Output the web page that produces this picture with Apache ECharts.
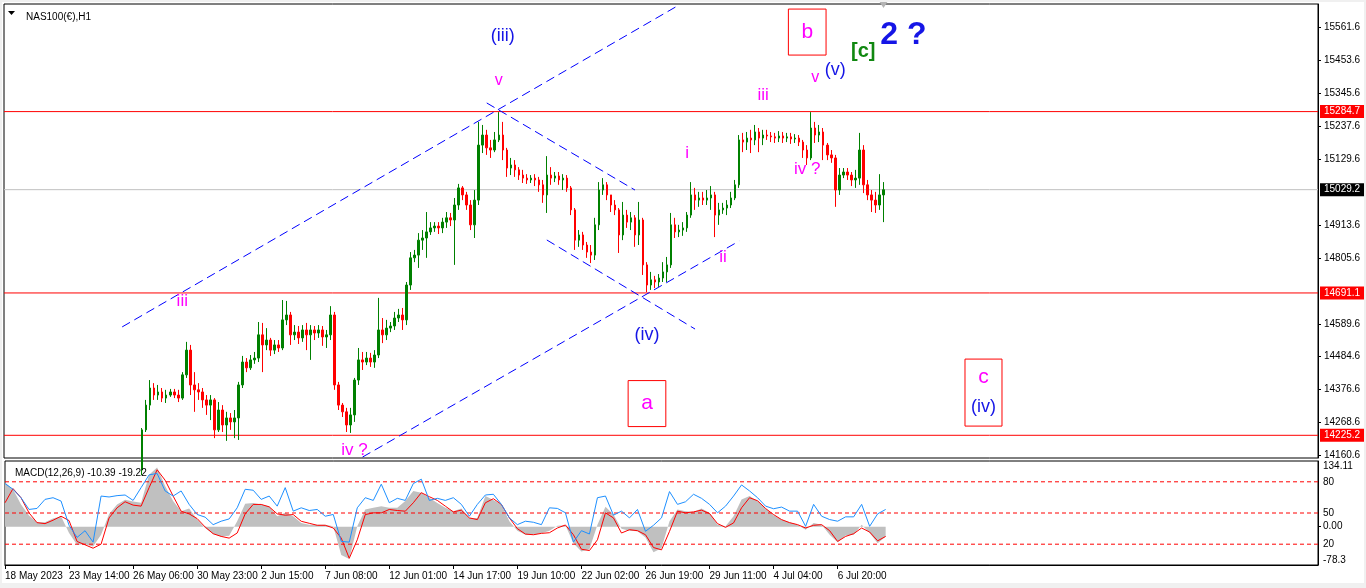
<!DOCTYPE html>
<html><head><meta charset="utf-8">
<script src="https://cdn.jsdelivr.net/npm/echarts@6/dist/echarts.min.js"></script>
<style>
html,body{margin:0;padding:0;background:#f0f0f0;width:1366px;height:588px;overflow:hidden}
#c{position:absolute;left:2px;top:2px;width:1362px;height:581px;background:#fff}
</style></head><body><div id="c"></div>
<script>
// ---------- DATA ----------
const FIRST_SLOT = 34;       // first slot that is visible in the price window
const SLOT_COUNT = 328;      // slots across the price window (4 H1 bars per slot)
// candles: [open, close, low, high]
const candles = [
[14112,14243,14095,14249],[14243,14324,14236,14341],[14324,14380,14308,14406],[14380,14357,14341,14396],
[14357,14367,14341,14390],[14367,14347,14334,14380],[14347,14357,14331,14374],[14357,14367,14351,14377],
[14367,14357,14347,14377],[14357,14347,14334,14374],[14347,14423,14341,14432],[14423,14504,14413,14531],
[14504,14390,14357,14521],[14390,14374,14302,14432],[14374,14367,14341,14396],[14367,14341,14315,14380],
[14341,14324,14292,14357],[14324,14341,14275,14357],[14341,14243,14216,14347],[14243,14308,14236,14334],
[14308,14259,14236,14324],[14259,14282,14207,14302],[14282,14269,14243,14298],[14269,14282,14216,14308],
[14282,14390,14210,14400],[14390,14465,14380,14485],[14465,14446,14432,14478],[14446,14472,14439,14488],
[14472,14478,14459,14498],[14478,14554,14465,14596],[14554,14521,14432,14593],[14521,14537,14504,14576],
[14537,14504,14485,14544],[14504,14521,14491,14537],[14521,14511,14498,14537],[14511,14603,14504,14668],
[14603,14619,14586,14665],[14619,14554,14521,14629],[14554,14563,14537,14586],[14563,14544,14524,14583],
[14544,14570,14531,14586],[14570,14554,14504,14593],[14554,14570,14472,14586],[14570,14560,14537,14583],
[14560,14570,14544,14586],[14570,14547,14518,14583],[14547,14554,14511,14570],[14554,14619,14537,14648],
[14619,14390,14374,14629],[14390,14324,14308,14400],[14324,14302,14285,14331],[14302,14259,14236,14315],
[14259,14292,14233,14315],[14292,14406,14269,14413],[14406,14472,14390,14511],[14472,14465,14439,14498],
[14465,14478,14455,14498],[14478,14465,14449,14495],[14465,14488,14446,14504],[14488,14570,14478,14675],
[14570,14554,14527,14609],[14554,14576,14537,14603],[14576,14583,14563,14596],[14583,14609,14570,14629],
[14609,14619,14596,14639],[14619,14603,14570,14642],[14603,14717,14586,14727],[14717,14806,14701,14825],
[14806,14815,14792,14832],[14815,14864,14773,14887],[14864,14871,14832,14897],[14871,14891,14806,14956],
[14891,14904,14881,14923],[14904,14910,14891,14923],[14910,14904,14884,14923],[14904,14923,14887,14937],
[14923,14937,14904,14956],[14937,14930,14910,14953],[14930,14979,14783,15002],[14979,15035,14963,15048],
[15035,15012,14995,15041],[15012,14979,14963,15022],[14979,14914,14897,14995],[14914,14995,14871,15028],
[14995,15175,14979,15251],[15175,15208,15149,15241],[15208,15166,15143,15225],[15166,15159,15133,15192],
[15159,15192,15152,15218],[15192,15208,15185,15283],[15208,15159,15126,15251],[15159,15100,15071,15166],
[15100,15110,15077,15133],[15110,15094,15071,15126],[15094,15077,15061,15103],[15077,15067,15051,15094],
[15067,15061,15048,15080],[15061,15067,15051,15077],[15067,15061,15041,15080],[15061,15045,15022,15071],
[15045,15012,14986,15061],[15012,15077,14953,15139],[15077,15067,15045,15103],[15067,15074,15054,15087],
[15074,15061,15045,15087],[15061,15067,15028,15080],[15067,15035,15022,15077],[15035,14963,14946,15041],
[14963,14864,14832,14969],[14864,14881,14842,14897],[14881,14848,14832,14891],[14848,14825,14806,14858],
[14825,14815,14789,14848],[14815,14914,14799,14937],[14914,15028,14897,15054],[15028,15045,15012,15067],
[15045,15012,14995,15054],[15012,14979,14956,15012],[14979,14963,14946,14995],[14963,14881,14822,14969],
[14881,14946,14864,14989],[14946,14923,14904,14963],[14923,14937,14897,14956],[14937,14881,14842,14946],
[14881,14930,14848,14989],[14930,14783,14750,14937],[14783,14717,14694,14792],[14717,14734,14701,14760],
[14734,14727,14707,14747],[14727,14740,14711,14753],[14740,14760,14727,14792],[14760,14783,14727,14809],
[14783,14914,14773,14953],[14914,14891,14871,14937],[14891,14897,14874,14914],[14897,14904,14878,14923],
[14904,14946,14891,14956],[14946,15012,14937,15054],[15012,14995,14963,15035],[14995,15002,14973,15022],
[15002,14995,14979,15022],[14995,15002,14979,15028],[15002,15012,14963,15041],[15012,14946,14874,15022],
[14946,14963,14914,14986],[14963,14969,14950,14986],[14969,14979,14946,14995],[14979,15002,14969,15022],
[15002,15045,14995,15061],[15045,15192,15035,15208],[15192,15185,15152,15215],[15185,15198,15159,15218],
[15198,15192,15149,15225],[15192,15218,15175,15241],[15218,15198,15152,15231],[15198,15208,15175,15225],
[15208,15205,15192,15225],[15205,15202,15185,15218],[15202,15198,15182,15215],[15198,15205,15185,15221],
[15205,15198,15182,15218],[15198,15202,15185,15215],[15202,15195,15179,15215],[15195,15198,15182,15211],
[15198,15185,15172,15208],[15185,15159,15133,15192],[15159,15133,15110,15175],[15133,15231,15126,15283],
[15231,15208,15182,15251],[15208,15218,15185,15241],[15218,15175,15126,15231],[15175,15143,15126,15182],
[15143,15133,15117,15159],[15133,15028,14973,15143],[15028,15077,15012,15100],[15077,15087,15067,15100],
[15087,15077,15061,15100],[15077,15061,15041,15087],[15061,15067,15035,15094],[15067,15159,15045,15215],
[15159,15045,15018,15175],[15045,15012,14995,15061],[15012,14995,14956,15028],[14995,14979,14953,15022],
[14979,15012,14963,15080],[15012,15029,14923,15054]
];
// MACD window, one value per 8 H1 bars
const macdMain = [
90.0,76.3,45.4,22.7,8.9,8.9,16.5,21.3,-13.0,-37.1,-35.7,-40.6,-16.5,26.1,45.4,55.0,51.6,48.8,105.9,121.0,
83.2,52.2,31.6,37.1,14.4,-2.7,-15.1,-19.9,-18.6,11.0,46.7,48.1,45.4,41.9,21.3,28.2,21.3,7.6,4.1,4.1,
4.1,0.7,-57.7,-66.0,0.7,35.1,38.5,41.9,38.5,38.5,52.2,72.9,69.4,59.1,48.1,38.5,31.6,37.1,17.9,17.9,
62.5,54.3,45.4,11.0,-8.2,-16.5,-16.5,-13.7,-8.2,2.1,2.8,-33.7,-50.9,-46.1,4.1,40.5,24.7,-4.1,-8.2,-9.6,
-22.0,-52.2,-44.0,11.0,35.1,31.6,30.2,37.1,28.2,4.1,0.7,21.3,55.7,62.5,52.2,37.1,23.4,14.4,8.9,4.1,
-6.2,7.6,4.1,-16.5,-31.6,-17.9,-16.5,4.1,-13.0,-33.7,-19.9
];
const macdSignal = [
48.8,77.7,59.1,28.2,8.2,6.2,13.1,21.3,12.4,-30.2,-37.1,-44.0,-35.7,17.9,38.5,50.9,44.0,41.9,79.7,116.2,
94.9,62.5,31.6,26.1,16.5,-0.7,-14.4,-19.9,-23.4,-13.0,26.1,45.4,45.4,40.5,26.1,23.4,24.7,11.0,6.9,2.8,
2.8,-2.7,-23.4,-64.6,-26.8,24.7,28.2,28.2,35.1,33.0,31.6,48.8,69.4,61.2,53.6,41.9,30.2,33.7,17.9,14.4,
48.8,57.1,45.4,17.9,-4.1,-15.1,-16.5,-13.7,-12.4,-2.7,3.4,-16.5,-46.1,-48.8,-26.8,28.2,17.9,-13.0,-6.2,-8.2,
-16.5,-42.6,-47.4,-9.6,31.6,28.2,30.2,33.7,26.8,6.2,-1.4,7.6,38.5,59.1,52.9,37.1,24.7,14.4,8.2,4.1,
-2.7,2.8,4.1,-8.2,-30.2,-19.9,-14.4,-2.7,-11.0,-28.9,-19.9
];
const oscillator = [
78.3,72.8,64.7,53.4,54.4,63.1,64.7,61.5,38.2,26.5,33.0,22.0,66.3,65.4,66.7,67.3,62.1,74.4,86.7,88.0,
71.2,66.3,71.2,58.3,48.6,46.0,38.8,42.1,44.3,55.0,72.8,71.9,63.1,66.3,56.6,74.4,51.8,55.0,52.4,53.4,
46.9,48.6,22.7,22.0,55.0,64.7,62.1,77.7,59.9,64.1,62.1,78.3,82.5,62.1,64.1,62.1,64.7,58.3,46.9,58.3,
67.3,68.0,58.3,45.3,38.8,42.1,41.1,38.8,55.0,54.4,50.2,22.0,33.0,29.8,64.7,66.3,47.9,51.8,45.3,53.4,
32.4,38.2,45.3,70.6,58.3,60.8,68.0,64.1,58.3,50.2,56.6,66.3,77.0,71.2,64.7,56.6,54.1,55.7,51.8,51.8,
37.2,58.3,46.9,43.7,42.1,46.3,46.3,58.3,37.2,49.2,53.4
];
const dateLabels = ['18 May 2023','23 May 14:00','26 May 06:00','30 May 23:00','2 Jun 15:00','7 Jun 08:00',
  '12 Jun 01:00','14 Jun 17:00','19 Jun 10:00','22 Jun 02:00','26 Jun 19:00','29 Jun 11:00','4 Jul 04:00','6 Jul 20:00'];
const priceTicks = [14160.6,14268.6,14376.6,14484.6,14589.6,14805.6,14913.6,15129.6,15237.6,15345.6,15453.6,15561.6];
const macdTicks = [-78.3, 0, 134.11];
const oscLevels = [20, 50, 80];
const redLevels = [15284.7, 14691.1, 14225.2];
const bidLevel = 15029.2;
// trend lines: [slotA, priceA, slotB, priceB]
const trendLines = [
  [29, 14580, 167.75, 15633.6],
  [89.25, 14154, 182.75, 14861],
  [120.25, 15313, 157.25, 15028],
  [134.75, 14864.5, 171.75, 14573]
];
// wave labels: [text, slot, price, color, size, bold, boxed]
const annotations = [
  ['(iii)', 123.5, 15532, '#1515e6', 18, false, false],
  ['v', 123, 15385, '#ff00ff', 16, false, false],
  ['iii', 43.75, 14665, '#ff00ff', 17, false, false],
  ['iv ?', 86.75, 14176, '#ff00ff', 17, false, false],
  ['(iv)', 160, 14554, '#1515e6', 18, false, false],
  ['a', 159.6, 14329, '#ff00ff', 21, false, true],
  ['i', 170.25, 15149, '#ff00ff', 17, false, false],
  ['ii', 178.5, 14809, '#ff00ff', 17, false, false],
  ['iii', 188.5, 15339, '#ff00ff', 17, false, false],
  ['iv ?', 199.5, 15097, '#ff00ff', 17, false, false],
  ['v', 202, 15395, '#ff00ff', 16, false, false],
  ['(v)', 207, 15421, '#1515e6', 18, false, false],
  ['b', 199.75, 15545, '#ff00ff', 21, false, true],
  ['[c]', 214, 15480, '#118811', 20, true, false],
  ['2 ?', 224.25, 15535, '#1515e6', 32, true, false]
];
const boxedPair = {top:'c', bottom:'(iv)', slot:243.6, price:14365};

// ---------- BUILD ----------
const FONT = 'Liberation Sans';
const mainCats = Array.from({length:SLOT_COUNT}, (_, i) => String(i));
const candleData = [];
for (let i = 0; i < FIRST_SLOT; i++) candleData.push(['-','-','-','-']);
candles.forEach(c => candleData.push(c));
const macdCats = Array.from({length:165}, (_, i) => (i % 8 === 0 && dateLabels[i/8]) ? dateLabels[i/8] : '');
const labelIdx = (i) => i % 8 === 0 && i/8 < dateLabels.length;

const trendMarks = trendLines.map(t => [{coord: [t[0], t[1]]}, {coord: [t[2], t[3]]}]);
const annoPoints = annotations.map(a => ({
  coord: [a[1], a[2]], symbol: 'rect', symbolSize: 1, itemStyle: {color: 'rgba(0,0,0,0)'},
  label: {show: true, position: 'inside', formatter: a[0], color: a[3], fontSize: a[4],
          fontWeight: a[5] ? 'bold' : 'normal', fontFamily: FONT,
          borderColor: a[6] ? '#ff0000' : 'transparent', borderWidth: a[6] ? 1 : 0,
          padding: a[6] ? [11, 13, 10, 13] : 0, lineHeight: a[4] + 4}
}));
annoPoints.push({
  coord: [boxedPair.slot, boxedPair.price], symbol: 'rect', symbolSize: 1, itemStyle: {color: 'rgba(0,0,0,0)'},
  label: {show: true, position: 'inside', formatter: '{m|' + boxedPair.top + '}\n{b|' + boxedPair.bottom + '}',
          borderColor: '#ff0000', borderWidth: 1, padding: [3, 6, 4, 6],
          rich: {m: {color: '#ff00ff', fontSize: 21, fontFamily: FONT, lineHeight: 30, align: 'center'},
                 b: {color: '#1515e6', fontSize: 18, fontFamily: FONT, lineHeight: 30, align: 'center'}}}
});

// horizontal level lines drawn as 2-point lines across a hidden 0..1 x axis
const hLine = (value, color, xIdx, yIdx, labelBg, dashed) => ({
  type: 'line', xAxisIndex: xIdx, yAxisIndex: yIdx, data: [[0, value], [1, value]],
  symbol: 'none', silent: true, z: 3, clip: false,
  lineStyle: {color: color, width: 1, type: dashed ? [4, 3] : 'solid'},
  itemStyle: {color: color},
  emphasis: {disabled: true},
  endLabel: labelBg ? {show: true, distance: 2, formatter: value.toFixed(1), color: '#fff',
            backgroundColor: labelBg, padding: [2, 4, 1, 4], fontFamily: FONT, fontSize: 10} : {show: false}
});

const series = [];
series.push(hLine(bidLevel, '#c0c0c0', 2, 0, '#000000', false));
redLevels.forEach(v => series.push(hLine(v, '#ff0000', 2, 0, '#ff0000', false)));
series.push({type: 'line', xAxisIndex: 0, yAxisIndex: 0, data: [], silent: true,
  markLine: {symbol: ['none', 'none'], silent: true, animation: false,
             lineStyle: {color: '#0000ff', width: 1, type: [9, 5]}, label: {show: false}, data: trendMarks}});
series.push({type: 'candlestick', xAxisIndex: 0, yAxisIndex: 0, data: candleData, barWidth: 2, clip: true, z: 4,
  itemStyle: {color: '#008000', color0: '#ff0000', borderColor: '#008000', borderColor0: '#ff0000', borderWidth: 1},
  markPoint: {silent: true, animation: false, data: annoPoints}});
series.push({type: 'line', xAxisIndex: 1, yAxisIndex: 1, data: macdMain, symbol: 'none',
  lineStyle: {width: 0, color: '#c0c0c0'}, itemStyle: {color: '#c0c0c0'}, areaStyle: {color: '#c0c0c0', opacity: 1}});
oscLevels.forEach(v => series.push(hLine(v, '#ff0000', 3, 2, null, true)));
series.push({type: 'line', xAxisIndex: 1, yAxisIndex: 1, data: macdSignal, symbol: 'none',
  lineStyle: {width: 1, color: '#ff0000'}, itemStyle: {color: '#ff0000'}});
series.push({type: 'line', xAxisIndex: 1, yAxisIndex: 2, data: oscillator, symbol: 'none',
  lineStyle: {width: 1, color: '#1e90ff'}, itemStyle: {color: '#1e90ff'}});

const chart = echarts.init(document.getElementById('c'));
chart.setOption({
  animation: false,
  backgroundColor: '#ffffff',
  textStyle: {fontFamily: FONT},
  title: [
    {text: 'NAS100(€),H1', left: 19, top: 5, textStyle: {fontSize: 10, fontWeight: 'normal', color: '#000', fontFamily: FONT}},
    {text: 'MACD(12,26,9) -10.39 -19.22', left: 8, top: 461, textStyle: {fontSize: 10, fontWeight: 'normal', color: '#000', fontFamily: FONT}}
  ],
  graphic: [
    {type: 'polygon', shape: {points: [[6, 9], [13, 9], [9.5, 13]]}, style: {fill: '#000'}},
    {type: 'polygon', shape: {points: [[877, -1], [886, -1], [881.5, 6]]}, style: {fill: '#b4b4b4'}}
  ],
  grid: [
    {left: 2, right: 46, top: 2, bottom: 125, show: true, borderColor: '#000', borderWidth: 1, backgroundColor: '#fff'},
    {left: 2, right: 46, top: 459, bottom: 18, show: true, borderColor: '#000', borderWidth: 1, backgroundColor: '#fff'}
  ],
  xAxis: [
    {type: 'category', gridIndex: 0, data: mainCats, boundaryGap: true,
     axisLine: {show: false, onZero: false}, axisTick: {show: false}, axisLabel: {show: false}, splitLine: {show: false}},
    {type: 'category', gridIndex: 1, data: macdCats, boundaryGap: false,
     axisLine: {show: true, onZero: false, lineStyle: {color: '#000'}},
     axisTick: {show: true, interval: (i) => labelIdx(i), length: 4, lineStyle: {color: '#000'}},
     axisLabel: {show: true, interval: (i) => labelIdx(i), align: 'left', color: '#000', fontSize: 10, fontFamily: FONT, margin: 6},
     splitLine: {show: false}},
    {type: 'value', gridIndex: 0, min: 0, max: 1, show: false, splitLine: {show: false}},
    {type: 'value', gridIndex: 1, min: 0, max: 1, show: false, splitLine: {show: false}}
  ],
  yAxis: [
    {type: 'value', gridIndex: 0, position: 'right', min: 14150.9, max: 15636.9,
     axisLine: {show: true, onZero: false, lineStyle: {color: '#000'}},
     axisTick: {show: true, length: 3, customValues: priceTicks, lineStyle: {color: '#000'}},
     axisLabel: {show: true, customValues: priceTicks, formatter: v => v.toFixed(1), color: '#000', fontSize: 10, fontFamily: FONT, margin: 6},
     splitLine: {show: false}},
    {type: 'value', gridIndex: 1, position: 'right', min: -78.3, max: 134.11,
     axisLine: {show: true, onZero: false, lineStyle: {color: '#000'}},
     axisTick: {show: true, length: 3, customValues: [0], lineStyle: {color: '#000'}},
     axisLabel: {show: true, customValues: macdTicks, formatter: v => v === 0 ? '0.00' : String(v),
                 color: '#000', fontSize: 10, fontFamily: FONT, margin: 5,
                 showMinLabel: true, showMaxLabel: true, verticalAlignMaxLabel: 'top', verticalAlignMinLabel: 'bottom'},
     splitLine: {show: false}},
    {type: 'value', gridIndex: 1, position: 'right', min: 0, max: 100,
     axisLine: {show: false, onZero: false}, axisTick: {show: false},
     axisLabel: {show: true, customValues: oscLevels, color: '#000', fontSize: 10, fontFamily: FONT, margin: 5},
     splitLine: {show: false}}
  ],
  series: series
});
</script></body></html>
